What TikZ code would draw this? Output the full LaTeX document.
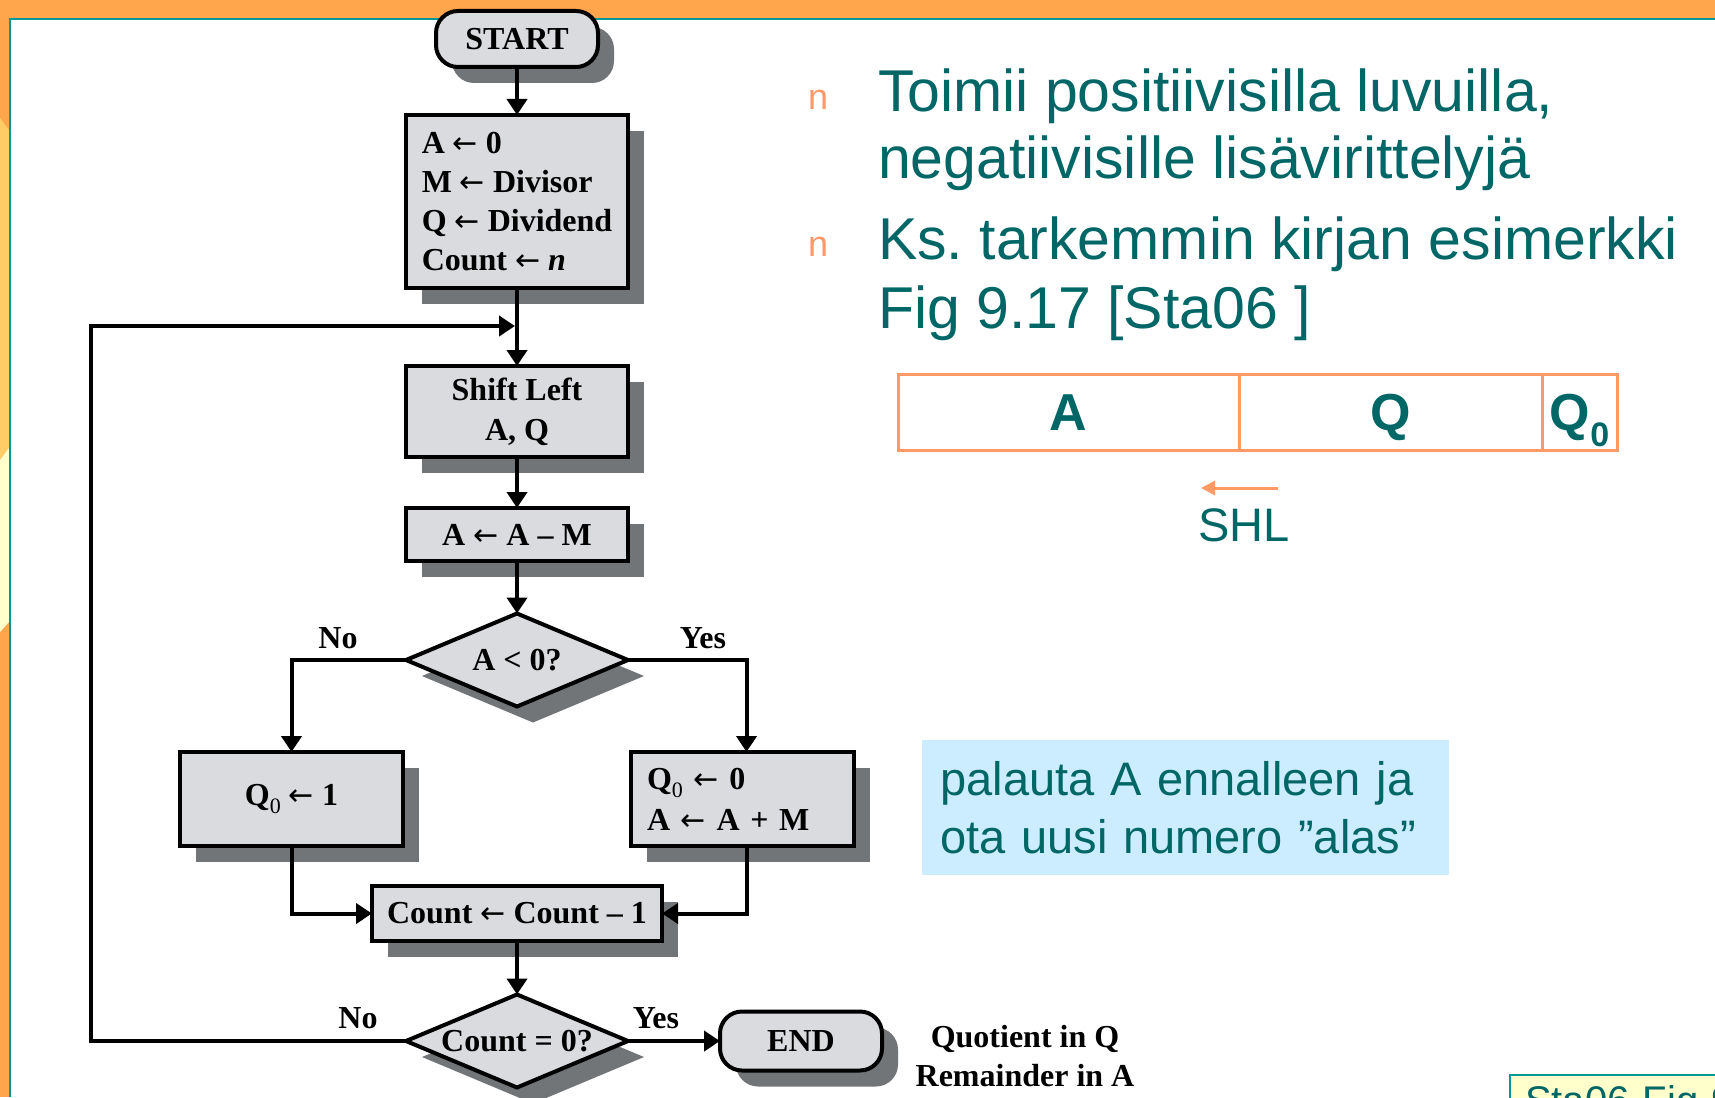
\documentclass[tikz,border=0pt]{standalone}
\usepackage{fontspec}
\setmainfont{Liberation Serif}
\newfontfamily\sansfam{Liberation Sans}
\newfontfamily\arrowfam{DejaVu Sans}
\usetikzlibrary{arrows.meta,shapes.geometric,shadows}

\definecolor{bandorange}{HTML}{FFA54C}
\definecolor{lightorange}{HTML}{FFCC66}
\definecolor{paleyellow}{HTML}{FFFFCC}
\definecolor{tealline}{HTML}{009999}
\definecolor{tealtext}{HTML}{006666}
\definecolor{salmon}{HTML}{FF9966}
\definecolor{boxgray}{HTML}{D9DBDE}
\definecolor{shadowgray}{HTML}{727578}
\definecolor{lightblue}{HTML}{CCECFF}

% thin assignment arrow used in the flowchart
\newcommand{\la}{{\arrowfam\mdseries\fontsize{30}{30}\selectfont ←}}
\newcommand{\subz}{\raisebox{-8pt}{\mdseries\fontsize{22}{22}\selectfont 0}}

\begin{document}
\frenchspacing
\begin{tikzpicture}[x=1pt,y=-1pt,
  every node/.style={inner sep=0pt, outer sep=0pt},
  fcfont/.style={font=\fontsize{32}{39}\selectfont\bfseries},
  flowbox/.style={draw=black, line width=4pt, fill=boxgray, fcfont,
    drop shadow={shadow xshift=16pt, shadow yshift=-16pt, opacity=1, fill=shadowgray}},
  termbox/.style={flowbox, rounded corners=22pt},
  decbox/.style={flowbox, shape=diamond},
  arr/.style={line width=4pt, -{Triangle[length=16pt,width=20pt]}},
  flabel/.style={fcfont, text=black},
  bodytext/.style={font=\sansfam\fontsize{59}{66}\selectfont, text=tealtext, anchor=base west},
  bulletmark/.style={font=\sansfam\fontsize{36}{36}\selectfont, text=salmon, anchor=base west},
  regcell/.style={draw=salmon, line width=3pt, minimum height=76pt, text height=37pt, text depth=0pt,
    font=\sansfam\bfseries\fontsize{52}{52}\selectfont, text=tealtext},
]
\useasboundingbox (0,0) rectangle (1715,1097);
\clip (0,0) rectangle (1715,1097);

% slide background
\fill[white] (0,0) rectangle (1715,1097);
\fill[bandorange] (0,0) rectangle (1715,18.5);
\fill[bandorange] (0,0) rectangle (9,1097);
\fill[lightorange] (0,118) -- (9,130) -- (9,448) -- (0,460) -- cycle;
\fill[paleyellow] (0,460) -- (9,448) -- (9,622) -- (0,632) -- cycle;
\draw[tealline, line width=2pt] (9,19.5) -- (1715,19.5);
\draw[tealline, line width=2pt] (10,18.5) -- (10,1097);

% flowchart boxes
\node[termbox, minimum width=162pt, minimum height=56pt] (start) at (517,39) {START};
\node[flowbox, minimum width=222pt, minimum height=173pt, align=left]
  (init) at (517,201.5) {A \la\ 0\\M \la\ Divisor\\Q \la\ Dividend\\Count \la\ \textit{n}};
\node[flowbox, minimum width=222pt, minimum height=91pt, align=center, font=\fontsize{32}{40}\selectfont\bfseries]
  (shift) at (517,411.5) {Shift Left\\A, Q};
\node[flowbox, minimum width=222pt, minimum height=53pt] (sub) at (517,534.5) {A \la\ A – M};
\node[decbox, minimum width=222pt, minimum height=93pt, label={[fcfont]center:A < 0?}] (d1) at (517,660) {};
\node[flowbox, minimum width=223pt, minimum height=94pt] (qa) at (291.5,799) {Q\subz\ \la\ 1};
\node[flowbox, minimum width=223pt, minimum height=94pt, text width=191pt, align=left, inner xsep=16pt,
  font=\fontsize{32}{41}\selectfont\bfseries] (qb) at (742.5,799) {Q\subz\ \la\ 0\\A \la\ A + M};
\node[flowbox, minimum width=290pt, minimum height=55pt] (cnt) at (517,913.5) {Count \la\ Count – 1};
\node[decbox, minimum width=222pt, minimum height=93pt, label={[fcfont]center:Count = 0?}] (d2) at (517,1041) {};
\node[termbox, minimum width=162pt, minimum height=59pt] (endn) at (801,1041) {END};

% branch labels and result
\node[flabel] (no1) at (338,638) {No};
\node[flabel] (yes1) at (703,638) {Yes};
\node[flabel] (no2) at (358,1018) {No};
\node[flabel] (yes2) at (656,1018) {Yes};
\node[flabel, align=center] (res) at (1025,1056) {Quotient in Q\\Remainder in A};

% connectors
\coordinate (mrg) at (517,326);
\coordinate (loopc) at (91,326);
\draw[arr] (start) -- (init);
\draw[arr] (init.south) -- (shift.north);
\draw[arr] (shift) -- (sub);
\draw[arr] (sub.south) -- (d1.north);
\draw[arr] (d1.west) -| (qa.north);
\draw[arr] (d1.east) -| ([xshift=4pt]qb.north);
\draw[arr] (qa.south) |- (cnt.west);
\draw[arr] ([xshift=4pt]qb.south) |- (cnt.east);
\draw[arr] (cnt.south) -- (d2.north);
\draw[arr] (d2.east) -- (endn.west);
\draw[arr, shorten >=2pt] (d2.west) -| (loopc) -- (mrg);

% bullet text
\node[bulletmark] (b1) at (808,110) {n};
\node[bodytext] (t1) at (878,112) {Toimii positiivisilla luvuilla,};
\node[bodytext] (t2) at (878,178) {negatiivisille lisävirittelyjä};
\node[bulletmark] (b2) at (808,256) {n};
\node[bodytext] (t3) at (878,259) {Ks. tarkemmin kirjan esimerkki};
\node[bodytext] (t4) at (878,328) {Fig 9.17 [Sta06 ]};

% register layout
\node[regcell, minimum width=341pt] (ca) at (1068.5,412) {A};
\node[regcell, minimum width=303pt] (cq) at (1390.5,412) {Q};
\node[regcell, minimum width=75pt] (cq0) at (1579.5,412) {Q\raisebox{-16pt}{\fontsize{34}{34}\selectfont 0}};
\coordinate (shlr) at (1278,488);
\coordinate (shll) at (1201,488);
\draw[salmon, line width=3pt, -{Triangle[length=14pt,width=14pt]}] (shlr) -- (shll);
\node[font=\sansfam\fontsize{47}{47}\selectfont, text=tealtext] (shl) at (1244,525) {SHL};

% note box
\node[fill=lightblue, minimum width=527pt, minimum height=135pt, text width=490pt, inner xsep=18.5pt,
  align=left, font=\sansfam\fontsize{47}{58}\selectfont, text=tealtext]
  (note) at (1185.5,807.5) {palauta A ennalleen ja\\ota uusi numero ”alas”};

% source tag
\node[draw=tealline, line width=2pt, fill=paleyellow, anchor=north west, text width=300pt, align=left,
  inner xsep=15pt, inner ysep=10pt, text height=29pt, text depth=0pt,
  font=\sansfam\fontsize{40}{40}\selectfont, text=tealtext] (src) at (1510,1075) {Sta06 Fig 9.17};
\end{tikzpicture}
\end{document}
